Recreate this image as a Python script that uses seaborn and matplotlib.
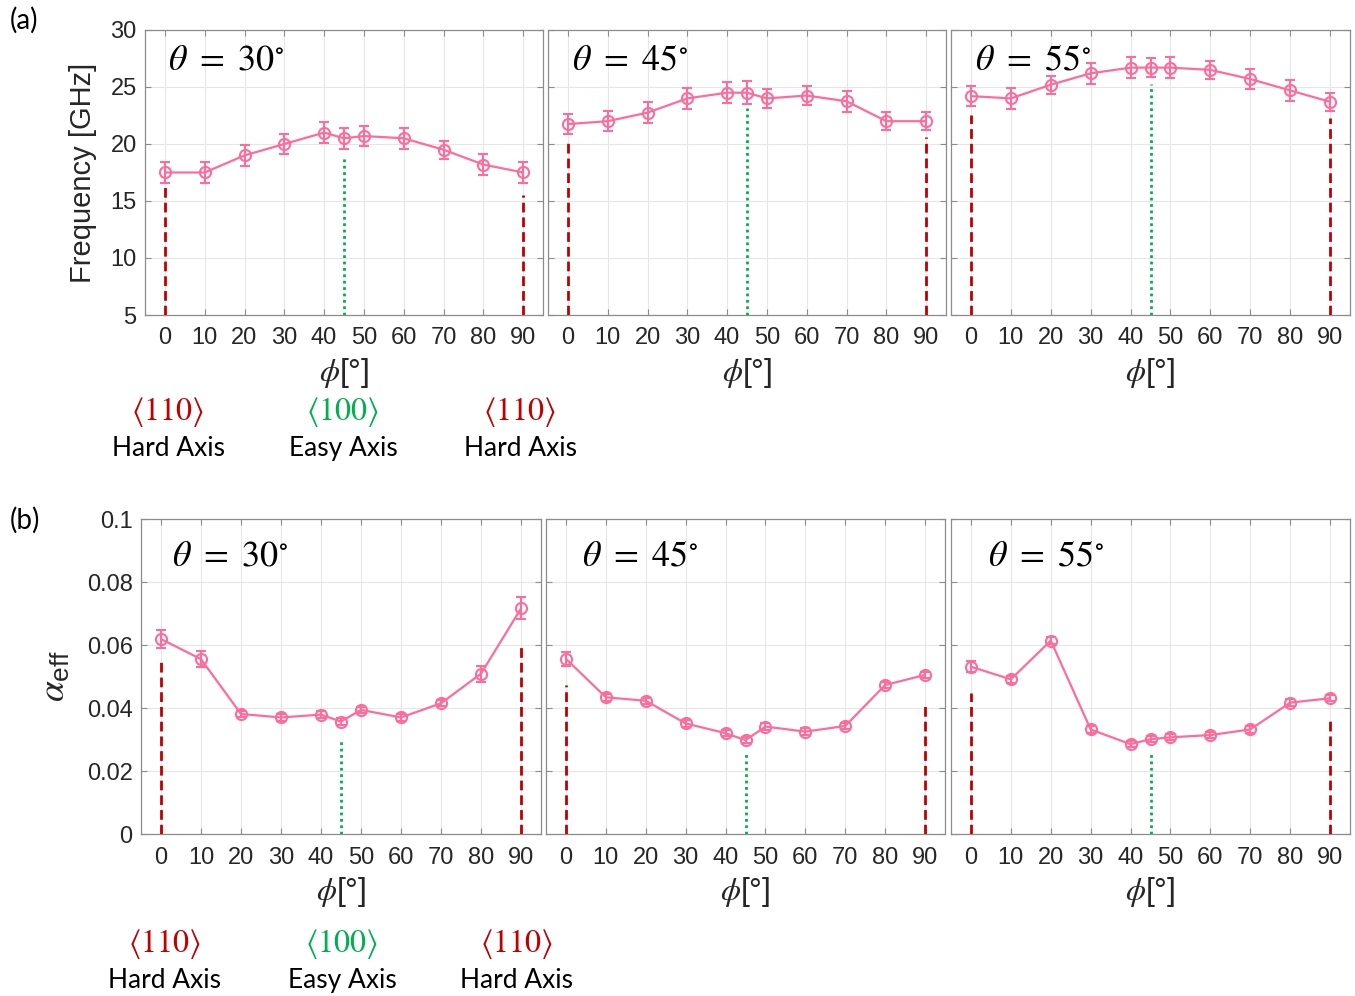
import numpy as np
import pandas as pd
import matplotlib
matplotlib.use("Agg")
import matplotlib.pyplot as plt
import seaborn as sns

# ---------------- data ----------------
phi = [0, 10, 20, 30, 40, 45, 50, 60, 70, 80, 90]
thetas = [30, 45, 55]

freq_30 = [17.5, 17.5, 19.0, 20.0, 21.0, 20.5, 20.7, 20.5, 19.5, 18.2, 17.5]
freq_45 = [21.75, 22.0, 22.75, 24.0, 24.5, 24.5, 24.0, 24.25, 23.75, 22.0, 22.0]
freq_55 = [24.2, 24.0, 25.2, 26.2, 26.7, 26.7, 26.7, 26.5, 25.7, 24.7, 23.7]
freq_err_30 = [0.9, 0.9, 0.9, 0.9, 0.9, 0.9, 0.9, 0.9, 0.8, 0.9, 0.9]
freq_err_45 = [0.9, 0.9, 0.9, 0.9, 0.9, 1.0, 0.8, 0.8, 0.9, 0.8, 0.8]
freq_err_55 = [0.9, 0.9, 0.8, 0.9, 0.9, 0.8, 0.9, 0.8, 0.9, 0.9, 0.8]

alpha_30 = [0.0619, 0.0555, 0.0381, 0.0370, 0.0379, 0.0357, 0.0394, 0.0370, 0.0415, 0.0509, 0.0716]
alpha_45 = [0.0556, 0.0434, 0.0423, 0.0351, 0.0320, 0.0298, 0.0341, 0.0325, 0.0343, 0.0473, 0.0505]
alpha_55 = [0.0531, 0.0491, 0.0614, 0.0332, 0.0285, 0.0301, 0.0307, 0.0314, 0.0332, 0.0417, 0.0431]
alpha_err_30 = [0.0030, 0.0025, 0.0010, 0.0010, 0.0010, 0.0010, 0.0010, 0.0010, 0.0010, 0.0025, 0.0035]
alpha_err_45 = [0.0023, 0.0012, 0.0010, 0.0010, 0.0010, 0.0010, 0.0010, 0.0010, 0.0010, 0.0010, 0.0010]
alpha_err_55 = [0.0018, 0.0012, 0.0012, 0.0010, 0.0010, 0.0010, 0.0010, 0.0010, 0.0010, 0.0010, 0.0010]

# heights of the axis guide lines (hard axis at phi=0, easy at 45, hard at 90)
guide_phi = [0, 45, 90]
freq_guides = [[16.3, 18.9, 15.5], [20.2, 23.2, 20.6], [22.5, 25.3, 22.3]]
alpha_guides = [[0.0547, 0.0296, 0.0595], [0.0473, 0.0254, 0.0418], [0.0447, 0.0265, 0.0365]]

axis_labels_dir = [r"$\langle 110\rangle$", r"$\langle 100\rangle$", r"$\langle 110\rangle$"]
axis_labels_name = ["Hard Axis", "Easy Axis", "Hard Axis"]

freq_sets = [(freq_30, freq_err_30), (freq_45, freq_err_45), (freq_55, freq_err_55)]
alpha_sets = [(alpha_30, alpha_err_30), (alpha_45, alpha_err_45), (alpha_55, alpha_err_55)]

# ---------------- style ----------------
sns.set_theme(style="whitegrid")
plt.rcParams["font.family"] = ["Liberation Sans", "DejaVu Sans"]
plt.rcParams["mathtext.fontset"] = "stix"

PINK = "#FF6B9B"
RED = "#C00000"
GREEN = "#00B050"
GRID = "#E6E6E6"
SPINE = "#8C8C8C"
TXT = "#262626"

W, H = 1355, 996
fig = plt.figure(figsize=(W / 100, H / 100), dpi=100)

def px_axes(x0, x1, ytop, ybot):
    return fig.add_axes([x0 / W, 1 - ybot / H, (x1 - x0) / W, (ybot - ytop) / H])

top_boxes = [(145, 543), (548, 946), (951, 1350)]
bot_boxes = [(141, 541), (546, 945), (951, 1350)]

top_title_x = [0.058, 0.06, 0.06]
bot_title_x = [0.078, 0.09, 0.093]

def style_axes(ax):
    ax.set_facecolor("white")
    ax.grid(True, color=GRID, linewidth=0.8)
    for s in ax.spines.values():
        s.set_color(SPINE)
        s.set_linewidth(0.9)
        s.set_visible(True)
    ax.tick_params(direction="in", length=4, width=0.8, color=SPINE,
                   bottom=True, left=True, top=True, right=True,
                   labelsize=17, labelcolor=TXT)
    ax.tick_params(axis="x", pad=9)
    ax.tick_params(axis="y", pad=6)
    ax.set_xlim(-5, 95)
    ax.set_xticks(range(0, 91, 10))
    ax.set_xlabel(r"$\phi$[°]", fontsize=23, color=TXT, labelpad=5)

def draw_panel(ax, yv, ye, guides, ymin):
    df = pd.DataFrame({"phi": phi, "val": yv})
    sns.lineplot(data=df, x="phi", y="val", ax=ax, color=PINK, linewidth=1.6,
                 marker="o", markersize=8, markerfacecolor="none",
                 markeredgecolor=PINK, markeredgewidth=1.5, errorbar=None, zorder=4)
    ax.errorbar(phi, yv, yerr=ye, fmt="none", ecolor=PINK, elinewidth=1.5,
                capsize=3.5, capthick=1.5, zorder=4)
    cols = [RED, GREEN, RED]
    styles = [(0, (3.5, 1.8)), (0, (1, 1.3)), (0, (3.5, 1.8))]
    for gx, gy, c, ls in zip(guide_phi, guides, cols, styles):
        ax.vlines(gx, ymin, gy, colors=c, linestyles=ls, linewidth=2.0, zorder=3)
    ax.set_ylabel("")

# ---- top row ----
top_axes = []
for i, (x0, x1) in enumerate(top_boxes):
    ax = px_axes(x0, x1, 30, 315)
    style_axes(ax)
    yv, ye = freq_sets[i]
    draw_panel(ax, yv, ye, freq_guides[i], 5)
    ax.set_ylim(5, 30)
    ax.set_yticks(range(5, 31, 5))
    if i > 0:
        ax.set_yticklabels([])
    ax.text(top_title_x[i], 0.895, r"$\theta\ =\ %d^{\circ}$" % thetas[i],
            transform=ax.transAxes, fontsize=26, ha="left", va="center", color="black")
    top_axes.append(ax)
top_axes[0].set_ylabel("Frequency [GHz]", fontsize=21, color=TXT, labelpad=10)

# ---- bottom row ----
bot_axes = []
for i, (x0, x1) in enumerate(bot_boxes):
    ax = px_axes(x0, x1, 519, 834)
    style_axes(ax)
    yv, ye = alpha_sets[i]
    draw_panel(ax, yv, ye, alpha_guides[i], 0)
    ax.set_ylim(0, 0.1)
    ax.set_yticks([0, 0.02, 0.04, 0.06, 0.08, 0.1])
    if i == 0:
        ax.set_yticklabels(["0", "0.02", "0.04", "0.06", "0.08", "0.1"])
    else:
        ax.set_yticklabels([])
    ax.text(bot_title_x[i], 0.883, r"$\theta\ =\ %d^{\circ}$" % thetas[i],
            transform=ax.transAxes, fontsize=26, ha="left", va="center", color="black")
    bot_axes.append(ax)
bot_axes[0].set_ylabel(r"$\alpha_{\mathregular{eff}}$", fontsize=27, color=TXT, labelpad=10)

# ---- axis annotations under the first column ----
dir_cols = [RED, GREEN, RED]
ann_rows = [([168, 343, 520], 412, 448), ([165, 342, 517], 944, 980)]
for xs, ydir, yname in ann_rows:
    for xp, lab, name, c in zip(xs, axis_labels_dir, axis_labels_name, dir_cols):
        fig.text(xp / W, 1 - ydir / H, lab, fontsize=23, color=c,
                 ha="center", va="center")
        fig.text(xp / W, 1 - yname / H, name, fontsize=19, color="black",
                 ha="center", va="center", family=["Lato", "DejaVu Sans"])

fig.text(10 / W, 1 - 20 / H, "(a)", fontsize=20, ha="left", va="center", color="black",
         family=["Lato", "DejaVu Sans"])
fig.text(10 / W, 1 - 520 / H, "(b)", fontsize=20, ha="left", va="center", color="black",
         family=["Lato", "DejaVu Sans"])

fig.savefig("out.png", dpi=100, facecolor="white")
